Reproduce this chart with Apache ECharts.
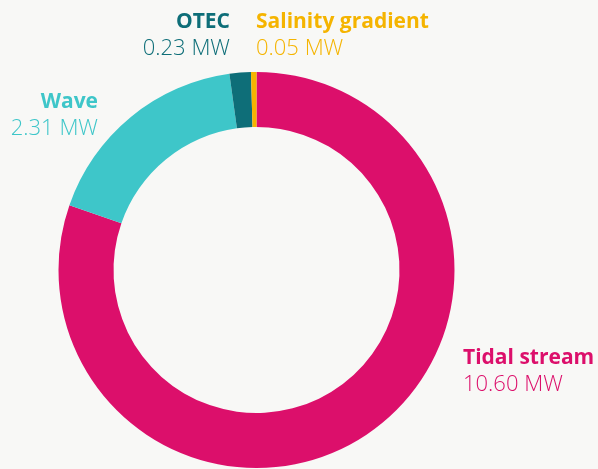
<!DOCTYPE html>
<html>
<head>
<meta charset="utf-8">
<script src="https://cdn.jsdelivr.net/npm/echarts@6/dist/echarts.min.js"></script>
<style>
  html, body { margin: 0; padding: 0; background: #f8f8f6; }
  #chart { width: 598px; height: 469px; }
</style>
</head>
<body>
<div id="chart"></div>
<script>
const names = ["Tidal stream", "Wave", "OTEC", "Salinity gradient"];
const values = [10.60, 2.31, 0.23, 0.05];
const valueText = ["10.60 MW", "2.31 MW", "0.23 MW", "0.05 MW"];
const colors = ["#dc0f6b", "#3ec6c9", "#0e6e78", "#f5b400"];

// where each label block sits (left/right anchor, top)
const labelPos = [
  { x: 463, y: 345, align: "left" },
  { x: 98, y: 89, align: "right" },
  { x: 230, y: 9, align: "right" },
  { x: 256, y: 9, align: "left" },
];

const chart = echarts.init(document.getElementById("chart"));

const data = names.map((n, i) => ({
  name: n,
  value: values[i],
  itemStyle: { color: colors[i] },
  label: {
    align: labelPos[i].align,
    rich: {
      n: { fontFamily: "Open Sans", fontWeight: "bold", fontSize: 21, color: colors[i], lineHeight: 26, align: labelPos[i].align },
      v: { fontFamily: "Open Sans", fontWeight: 300, fontSize: 22, color: colors[i], lineHeight: 27, align: labelPos[i].align },
    },
  },
}));

chart.setOption({
  backgroundColor: "#f8f8f6",
  animation: false,
  series: [
    {
      type: "pie",
      center: [256.5, 270],
      radius: [143, 198],
      startAngle: 90,
      clockwise: true,
      minAngle: 1.6,
      data: data,
      labelLine: { show: false },
      label: {
        show: true,
        position: "outside",
        overflow: "none",
        formatter: (p) => `{n|${p.name}}\n{v|${valueText[p.dataIndex]}}`,
      },
      labelLayout: (p) => ({
        x: labelPos[p.dataIndex].x,
        y: labelPos[p.dataIndex].y,
        align: labelPos[p.dataIndex].align,
        verticalAlign: "top",
        moveOverlap: false,
      }),
      emphasis: { disabled: true },
    },
  ],
});
</script>
</body>
</html>
